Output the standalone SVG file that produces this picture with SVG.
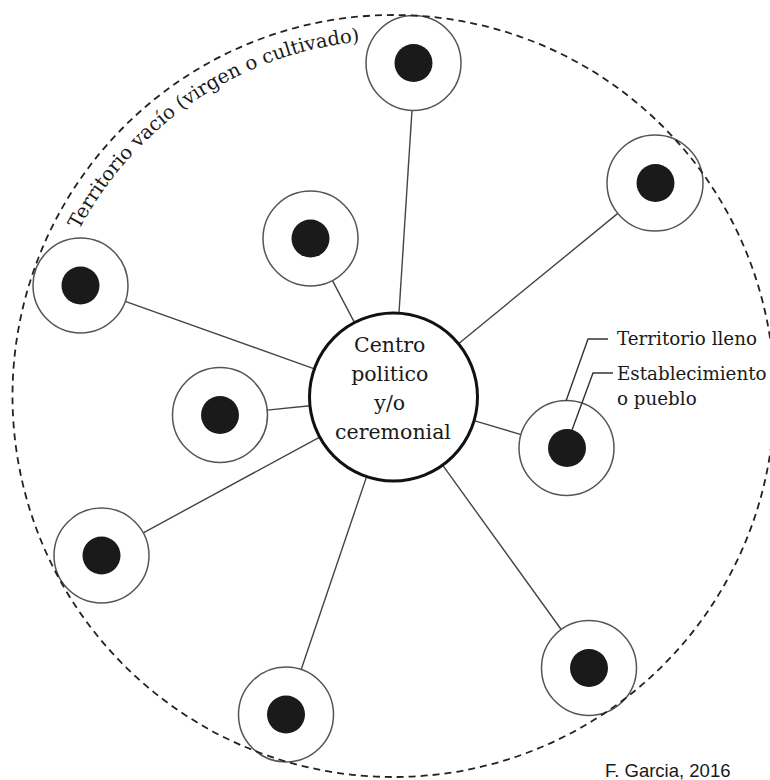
<svg xmlns="http://www.w3.org/2000/svg" width="770" height="780" viewBox="0 0 770 780">
<style>
.node-ring{fill:#fff;stroke:#555;stroke-width:1.5}
.dot{fill:#1a1a1a}
.conn line{stroke:#444;stroke-width:1.4}
.lead{fill:none;stroke:#333;stroke-width:1.4}
.serif{font-family:"DejaVu Serif","Liberation Serif",serif;fill:#1a1a1a}
</style>
<defs>
<path id="arc" d="M 79.1 230 A 356 356 0 0 1 572 87.7"/>
</defs>
<rect width="770" height="780" fill="#fff"/>
<g id="connectors" class="conn">
<line x1="412" y1="110" x2="399" y2="313"/>
<line x1="617.8" y1="213.4" x2="458.5" y2="343.7"/>
<line x1="332.5" y1="280.6" x2="354.5" y2="322.6"/>
<line x1="125.2" y1="301.4" x2="314.4" y2="368.8"/>
<line x1="267" y1="410.1" x2="310" y2="405.7"/>
<line x1="521.1" y1="434.6" x2="474" y2="420.7"/>
<line x1="143.3" y1="532.8" x2="319.7" y2="437.1"/>
<line x1="561.2" y1="629.5" x2="442.6" y2="465.1"/>
<line x1="301.2" y1="669.5" x2="366.6" y2="476.6"/>
</g>
<g id="center">
<circle cx="393.5" cy="397" r="84" fill="#fff" stroke="#111" stroke-width="3"/>
<text class="serif" font-size="20.5" text-anchor="middle">
<tspan x="393" y="352">Centro</tspan>
<tspan x="393" y="381">politico</tspan>
<tspan x="393" y="410">y/o</tspan>
<tspan x="393" y="439">ceremonial</tspan>
</text>
</g>
<g id="node-top"><circle class="node-ring" cx="413.5" cy="63" r="47.5"/><circle class="dot" cx="413.5" cy="63" r="19"/></g>
<g id="node-upper-right"><circle class="node-ring" cx="655" cy="183" r="48"/><circle class="dot" cx="655.5" cy="183" r="19"/></g>
<g id="node-upper-middle"><circle class="node-ring" cx="310.5" cy="238.5" r="47.5"/><circle class="dot" cx="310.5" cy="238.5" r="19"/></g>
<g id="node-left"><circle class="node-ring" cx="80.5" cy="285.5" r="47.5"/><circle class="dot" cx="80.5" cy="285.5" r="19"/></g>
<g id="node-mid-left"><circle class="node-ring" cx="220" cy="415" r="47.5"/><circle class="dot" cx="220" cy="415" r="19"/></g>
<g id="node-right"><circle class="node-ring" cx="566.5" cy="448" r="47.5"/><circle class="dot" cx="567" cy="448" r="19"/></g>
<g id="node-lower-left"><circle class="node-ring" cx="101.5" cy="555.5" r="47.5"/><circle class="dot" cx="101.5" cy="555.5" r="19"/></g>
<g id="node-bottom-right"><circle class="node-ring" cx="589" cy="668" r="47.5"/><circle class="dot" cx="589" cy="668" r="19"/></g>
<g id="node-bottom"><circle class="node-ring" cx="286" cy="714.5" r="47.5"/><circle class="dot" cx="286" cy="714.5" r="19"/></g>
<g id="territory">
<circle cx="393.5" cy="396" r="381" fill="none" stroke="#222" stroke-width="1.8" stroke-dasharray="7 5"/>
<text class="serif" font-size="19.5"><textPath href="#arc">Territorio vacío (virgen o cultivado)</textPath></text>
</g>
<g id="legend">
<polyline class="lead" points="608,339 588,339 566,401"/>
<polyline class="lead" points="613,373 593,373 572,430"/>
<text class="serif" font-size="18.3" x="617" y="345">Territorio lleno</text>
<text class="serif" font-size="18.3" x="617" y="380">Establecimiento</text>
<text class="serif" font-size="18.3" x="617" y="405">o pueblo</text>
</g>
<text id="credit" x="605" y="777" font-family="Liberation Sans, Arial, sans-serif" font-size="18.5" fill="#1a1a1a">F. Garcia, 2016</text>
</svg>
